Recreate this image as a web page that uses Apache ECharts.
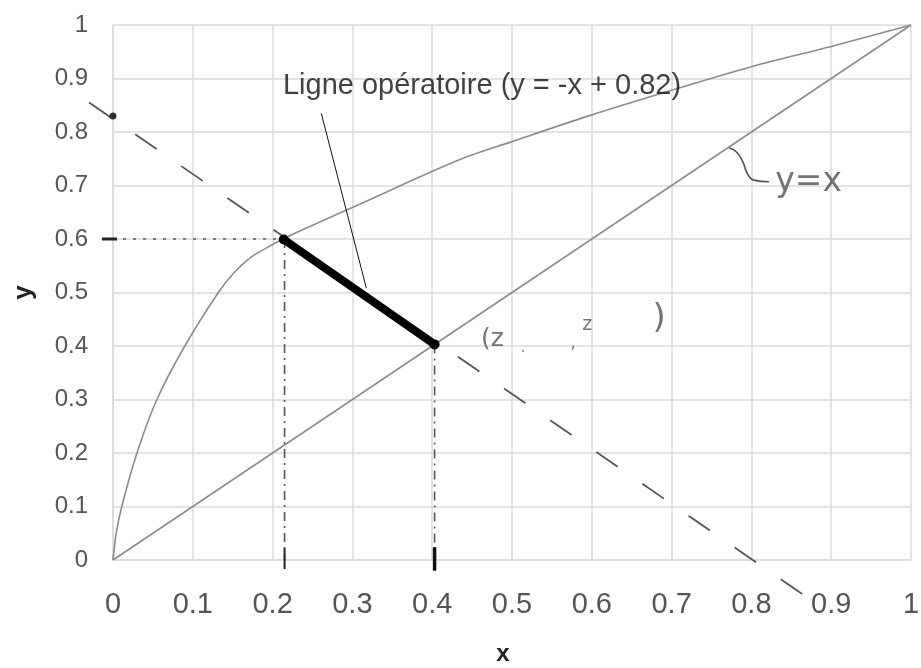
<!DOCTYPE html>
<html>
<head>
<meta charset="utf-8">
<script src="https://cdn.jsdelivr.net/npm/echarts@6/dist/echarts.min.js"></script>
<style>
  html, body { margin: 0; padding: 0; background: #ffffff; }
  #chart { width: 921px; height: 668px; }
</style>
</head>
<body>
<div id="chart"></div>
<script>
// ---- data ----
const xTicks = [0, 0.1, 0.2, 0.3, 0.4, 0.5, 0.6, 0.7, 0.8, 0.9, 1];
const yTicks = [0, 0.1, 0.2, 0.3, 0.4, 0.5, 0.6, 0.7, 0.8, 0.9, 1];

// equilibrium curve
const eqX = [0, 0.004, 0.011, 0.030, 0.055, 0.090, 0.132, 0.151, 0.171, 0.192, 0.213, 0.246, 0.309, 0.434, 0.5, 0.6, 0.7, 0.8, 0.9, 1];
const eqY = [0, 0.05, 0.1, 0.2, 0.3, 0.4, 0.5, 0.536, 0.564, 0.583, 0.6, 0.623, 0.665, 0.748, 0.782, 0.832, 0.878, 0.922, 0.96, 1];

// diagonal y = x
const diagX = [0, 1];
const diagY = [0, 1];

// operating line (thick segment)
const opX = [0.214, 0.403];
const opY = [0.599, 0.403];

// hand-drawn dashed extension of operating line
const dashX = [-0.03, 0.87];
const dashY = [0.855, -0.07];

// intercept point
const interceptX = [0];
const interceptY = [0.83];

// projection guides
const hGuideX = [0, 0.214];
const hGuideY = [0.6, 0.6];
const v1X = [0.215, 0.215];
const v1Y = [0.6, 0];
const v2X = [0.403, 0.403];
const v2Y = [0.403, 0];

// short tick marks
const tickLeftX = [-0.014, 0.005];
const tickLeftY = [0.6, 0.6];
const tickB1X = [0.215, 0.215];
const tickB1Y = [0.022, -0.017];
const tickB2X = [0.403, 0.403];
const tickB2Y = [0.024, -0.02];

// leader line for the annotation
const leaderX = [0.261, 0.3175];
const leaderY = [0.835, 0.508];

// handwritten bracket pointing to y = x
const bracketX = [0.772, 0.781, 0.789, 0.795, 0.803, 0.822];
const bracketY = [0.770, 0.763, 0.745, 0.722, 0.710, 0.707];

// text annotations
const annoText = ['Ligne opératoire (y = -x + 0.82)', 'y=x', '(z', '.', ',', 'z', ')'];
const annoX = [0.213, 0.83, 0.461, 0.51, 0.573, 0.588, 0.676];
const annoY = [0.886, 0.706, 0.413, 0.398, 0.405, 0.44, 0.45];

// ---- helpers ----
function zip(xs, ys) { return xs.map((x, i) => [x, ys[i]]); }

const grey = '#8c8c8c';
const gridCol = '#dadada';
const hand = '#505050';

const annoStyles = [
  { fontSize: 29, color: '#111', fontFamily: 'Liberation Sans' },
  { fontSize: 33, color: hand, fontFamily: 'DejaVu Sans' },
  { fontSize: 25, color: hand, fontFamily: 'DejaVu Sans' },
  { fontSize: 18, color: '#777', fontFamily: 'DejaVu Sans' },
  { fontSize: 18, color: '#666', fontFamily: 'DejaVu Sans' },
  { fontSize: 19, color: hand, fontFamily: 'DejaVu Sans' },
  { fontSize: 34, color: hand, fontFamily: 'DejaVu Sans' }
];

const annoData = annoText.map((t, i) => ({
  value: [annoX[i], annoY[i]],
  label: Object.assign({
    show: true,
    formatter: t,
    position: [0, 0],
    align: 'left',
    verticalAlign: 'middle'
  }, annoStyles[i])
}));

// straight segment drawn through the axes' scales (custom series: no horizontal clipping)
function seg(name, xs, ys, style, z) {
  return {
    name: name,
    type: 'custom',
    clip: false,
    silent: true,
    z: z || 3,
    data: [[xs[0], ys[0], xs[1], ys[1]]],
    encode: { x: [0, 2], y: [1, 3] },
    renderItem: function (params, api) {
      const p1 = api.coord([api.value(0), api.value(1)]);
      const p2 = api.coord([api.value(2), api.value(3)]);
      return {
        type: 'line',
        shape: { x1: p1[0], y1: p1[1], x2: p2[0], y2: p2[1] },
        style: Object.assign({ fill: null, lineCap: 'butt' }, style)
      };
    }
  };
}

// smooth curve through the data points (each point mapped by the axes' scales)
function smoothCurve(name, xs, ys, style) {
  const pts = zip(xs, ys);
  return {
    name: name,
    type: 'custom',
    clip: false,
    silent: true,
    z: 3,
    data: pts,
    encode: { x: 0, y: 1 },
    renderItem: function (params, api) {
      if (params.dataIndex !== 0) return null;
      const P = pts.map(p => api.coord(p));
      const n = P.length;
      const dist = (a, b) => Math.hypot(b[0] - a[0], b[1] - a[1]);
      const T = P.map((p, i) => {
        if (i === 0) { const d = dist(P[0], P[1]); return [(P[1][0] - P[0][0]) / d, (P[1][1] - P[0][1]) / d]; }
        if (i === n - 1) { const d = dist(P[n - 2], P[n - 1]); return [(P[n - 1][0] - P[n - 2][0]) / d, (P[n - 1][1] - P[n - 2][1]) / d]; }
        const s = dist(P[i - 1], P[i]) + dist(P[i], P[i + 1]);
        return [(P[i + 1][0] - P[i - 1][0]) / s, (P[i + 1][1] - P[i - 1][1]) / s];
      });
      const children = [];
      for (let i = 0; i < n - 1; i++) {
        const d = dist(P[i], P[i + 1]) / 3;
        children.push({
          type: 'bezierCurve',
          shape: {
            x1: P[i][0], y1: P[i][1],
            x2: P[i + 1][0], y2: P[i + 1][1],
            cpx1: P[i][0] + T[i][0] * d, cpy1: P[i][1] + T[i][1] * d,
            cpx2: P[i + 1][0] - T[i + 1][0] * d, cpy2: P[i + 1][1] - T[i + 1][1] * d
          },
          style: Object.assign({ fill: null }, style)
        });
      }
      return { type: 'group', children: children };
    }
  };
}

function curve(name, xs, ys, style, smooth) {
  return {
    name: name,
    type: 'line',
    data: zip(xs, ys),
    symbol: 'none',
    clip: false,
    silent: true,
    smooth: smooth,
    lineStyle: style,
    z: 3
  };
}

const chart = echarts.init(document.getElementById('chart'), null, { renderer: 'canvas' });

const option = {
  backgroundColor: '#ffffff',
  animation: false,
  grid: { left: 113, right: 10, top: 25, bottom: 108, containLabel: false, outerBoundsMode: 'none' },
  xAxis: {
    type: 'value',
    min: xTicks[0],
    max: xTicks[xTicks.length - 1],
    interval: 0.1,
    name: 'x',
    nameLocation: 'middle',
    nameGap: 82,
    nameTextStyle: { fontSize: 24, fontWeight: 'bold', color: '#222', fontFamily: 'Liberation Sans', padding: [0, 18, 0, 0] },
    axisLine: { show: true, lineStyle: { color: gridCol, width: 1.5 } },
    axisTick: { show: false },
    axisLabel: { fontSize: 29, color: '#555', margin: 30, fontFamily: 'Liberation Sans' },
    splitLine: { show: true, lineStyle: { color: gridCol, width: 1.5 } }
  },
  yAxis: {
    type: 'value',
    min: yTicks[0],
    max: yTicks[yTicks.length - 1],
    interval: 0.1,
    name: 'y',
    nameLocation: 'middle',
    nameGap: 76,
    nameRotate: 90,
    nameTextStyle: { fontSize: 26, fontWeight: 'bold', color: '#222', fontFamily: 'Liberation Sans' },
    axisLine: { show: true, lineStyle: { color: gridCol, width: 1.5 } },
    axisTick: { show: false },
    axisLabel: { fontSize: 24, color: '#555', margin: 25, fontFamily: 'Liberation Sans' },
    splitLine: { show: true, lineStyle: { color: gridCol, width: 1.5 } }
  },
  series: [
    seg('diag', diagX, diagY, { stroke: grey, lineWidth: 1.6 }),
    smoothCurve('eq', eqX, eqY, { stroke: grey, lineWidth: 1.6 }),
    seg('dash', dashX, dashY, { stroke: '#555', lineWidth: 1.8, lineDash: [26, 30] }),
    seg('hguide', hGuideX, hGuideY, { stroke: '#555', lineWidth: 1.6, lineDash: [3, 7] }),
    seg('v1', v1X, v1Y, { stroke: '#555', lineWidth: 1.6, lineDash: [9, 5, 2, 5] }),
    seg('v2', v2X, v2Y, { stroke: '#555', lineWidth: 1.6, lineDash: [9, 5, 2, 5] }),
    seg('tickL', tickLeftX, tickLeftY, { stroke: '#222', lineWidth: 3 }),
    seg('tickB1', tickB1X, tickB1Y, { stroke: '#222', lineWidth: 2 }),
    seg('tickB2', tickB2X, tickB2Y, { stroke: '#111', lineWidth: 3.5 }),
    seg('leader', leaderX, leaderY, { stroke: '#111', lineWidth: 1 }),
    curve('bracket', bracketX, bracketY, { color: hand, width: 1.6 }, 0.5),
    {
      name: 'op',
      type: 'line',
      data: zip(opX, opY),
      symbol: 'circle',
      symbolSize: 10,
      itemStyle: { color: '#000' },
      lineStyle: { color: '#000', width: 8, cap: 'round' },
      clip: false,
      silent: true,
      z: 5
    },
    {
      name: 'intercept',
      type: 'scatter',
      data: zip(interceptX, interceptY),
      symbol: 'circle',
      symbolSize: 7,
      itemStyle: { color: '#000' },
      clip: false,
      silent: true,
      z: 6
    },
    {
      name: 'annotations',
      type: 'scatter',
      data: annoData,
      symbolSize: 0,
      clip: false,
      silent: true,
      z: 7
    }
  ]
};

chart.setOption(option);
</script>
</body>
</html>
